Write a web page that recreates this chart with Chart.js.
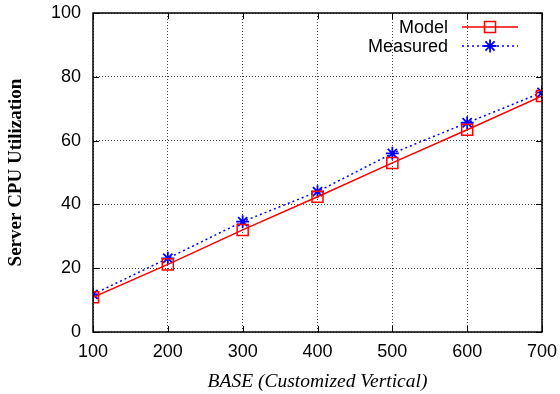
<!DOCTYPE html>
<html>
<head>
<meta charset="utf-8">
<script src="https://cdn.jsdelivr.net/npm/chart.js@4.4.1/dist/chart.umd.min.js"></script>
<style>
  html, body { margin: 0; padding: 0; background: #fff; }
  #wrap { width: 560px; height: 394px; }
</style>
</head>
<body>
<div id="wrap"><canvas id="cpu-chart" width="560" height="394"></canvas></div>
<script>
// values
var baseValues = [100, 200, 300, 400, 500, 600, 700];
var modelCpu = [10.9, 21.2, 32.0, 42.4, 53.0, 63.4, 74.0];
var measuredCpu = [11.8, 23.1, 34.6, 44.0, 56.0, 65.6, 75.1];

var sansFont = "'Liberation Sans', Arial, Helvetica, sans-serif";
var serifFont = "'Liberation Serif', 'Times New Roman', serif";

function toPoints(xs, ys) {
    return xs.map(function (x, i) { return { x: x, y: ys[i] }; });
}

// gnuplot style frame: full box plus inward ticks on all four sides
var framePlugin = {
    id: 'frame',
    afterDatasetsDraw: function (chart) {
        var ctx = chart.ctx;
        var a = chart.chartArea;
        var xs = chart.scales.x, ys = chart.scales.y;
        ctx.save();
        ctx.strokeStyle = '#000';
        ctx.lineWidth = 1;
        ctx.beginPath();
        xs.ticks.forEach(function (t) {
            var px = Math.round(xs.getPixelForValue(t.value)) + 0.5;
            ctx.moveTo(px, a.bottom); ctx.lineTo(px, a.bottom - 6);
            ctx.moveTo(px, a.top); ctx.lineTo(px, a.top + 6);
        });
        ys.ticks.forEach(function (t) {
            var py = Math.round(ys.getPixelForValue(t.value)) + 0.5;
            ctx.moveTo(a.left, py); ctx.lineTo(a.left + 6, py);
            ctx.moveTo(a.right, py); ctx.lineTo(a.right - 6, py);
        });
        ctx.stroke();
        ctx.lineWidth = 1.5;
        ctx.strokeRect(a.left, a.top, a.right - a.left, a.bottom - a.top);
        ctx.restore();
    }
};

// legend in the gnuplot layout: text on the left, line sample on the right
var keyPlugin = {
    id: 'key',
    afterDraw: function (chart) {
        var ctx = chart.ctx;
        var textRight = 448, lineStart = 462, lineEnd = 518, markX = 490;
        var rows = [27, 46];
        ctx.save();
        ctx.font = '18px ' + sansFont;
        ctx.textAlign = 'right';
        ctx.textBaseline = 'middle';
        chart.data.datasets.forEach(function (ds, i) {
            var y = rows[i];
            ctx.fillStyle = '#000';
            ctx.fillText(ds.label, textRight, y + 1);
            ctx.strokeStyle = ds.borderColor;
            ctx.lineWidth = ds.borderWidth;
            ctx.setLineDash(ds.borderDash || []);
            ctx.beginPath();
            ctx.moveTo(lineStart, y); ctx.lineTo(lineEnd, y);
            ctx.stroke();
            ctx.setLineDash([]);
            ctx.lineWidth = ds.pointBorderWidth;
            ctx.beginPath();
            if (ds.pointStyle === 'rect') {
                var s = ds.pointRadius * Math.SQRT1_2;
                ctx.rect(markX - s, y - s, 2 * s, 2 * s);
            } else {
                var r = ds.pointRadius, d = r * Math.SQRT1_2;
                ctx.moveTo(markX - r, y); ctx.lineTo(markX + r, y);
                ctx.moveTo(markX, y - r); ctx.lineTo(markX, y + r);
                ctx.moveTo(markX - d, y - d); ctx.lineTo(markX + d, y + d);
                ctx.moveTo(markX - d, y + d); ctx.lineTo(markX + d, y - d);
            }
            ctx.stroke();
        });
        ctx.restore();
    }
};

Chart.defaults.color = '#000';
Chart.defaults.font.family = sansFont;

var ctx = document.getElementById('cpu-chart').getContext('2d');
var cpuChart = new Chart(ctx, {
    type: 'line',
    data: {
        datasets: [
            {
                label: 'Model',
                data: toPoints(baseValues, modelCpu),
                borderColor: '#ff0000',
                borderWidth: 1.5,
                pointStyle: 'rect',
                pointRadius: 7.8,
                pointBorderWidth: 1.5,
                pointBorderColor: '#ff0000',
                pointBackgroundColor: 'rgba(0,0,0,0)',
                tension: 0
            },
            {
                label: 'Measured',
                data: toPoints(baseValues, measuredCpu),
                borderColor: '#0000ff',
                borderWidth: 1.5,
                borderDash: [2, 3],
                pointStyle: 'star',
                pointRadius: 6.5,
                pointBorderWidth: 1.8,
                pointBorderColor: '#0000ff',
                pointBackgroundColor: '#0000ff',
                tension: 0
            }
        ]
    },
    options: {
        responsive: false,
        animation: false,
        layout: { padding: { top: 13, right: 18, left: 0, bottom: 0 } },
        plugins: {
            legend: { display: false },
            tooltip: { enabled: false }
        },
        scales: {
            x: {
                type: 'linear',
                min: 100,
                max: 700,
                border: { display: false, dash: [1, 2] },
                grid: {
                    color: '#444',
                    lineWidth: 1,
                    drawTicks: false
                },
                ticks: {
                    stepSize: 100,
                    padding: 9,
                    font: { size: 18 }
                },
                title: {
                    display: true,
                    text: 'BASE (Customized Vertical)',
                    font: { family: serifFont, size: 19.5, style: 'italic' },
                    padding: { top: 9, bottom: 0 }
                },
                afterFit: function (scale) {
                    scale.height = 62;
                    scale.paddingLeft = 0;
                    scale.paddingRight = 0;
                }
            },
            y: {
                min: 0,
                max: 100,
                border: { display: false, dash: [1, 2] },
                grid: {
                    color: '#444',
                    lineWidth: 1,
                    drawTicks: false
                },
                ticks: {
                    stepSize: 20,
                    padding: 12,
                    font: { size: 18 }
                },
                title: {
                    display: true,
                    text: 'Server CPU Utilization',
                    font: { family: serifFont, size: 19, weight: 'bold' },
                    padding: { top: 5, bottom: 4 }
                },
                afterFit: function (scale) {
                    scale.width = 93;
                    scale.paddingTop = 0;
                    scale.paddingBottom = 0;
                }
            }
        }
    },
    plugins: [framePlugin, keyPlugin]
});
</script>
</body>
</html>
